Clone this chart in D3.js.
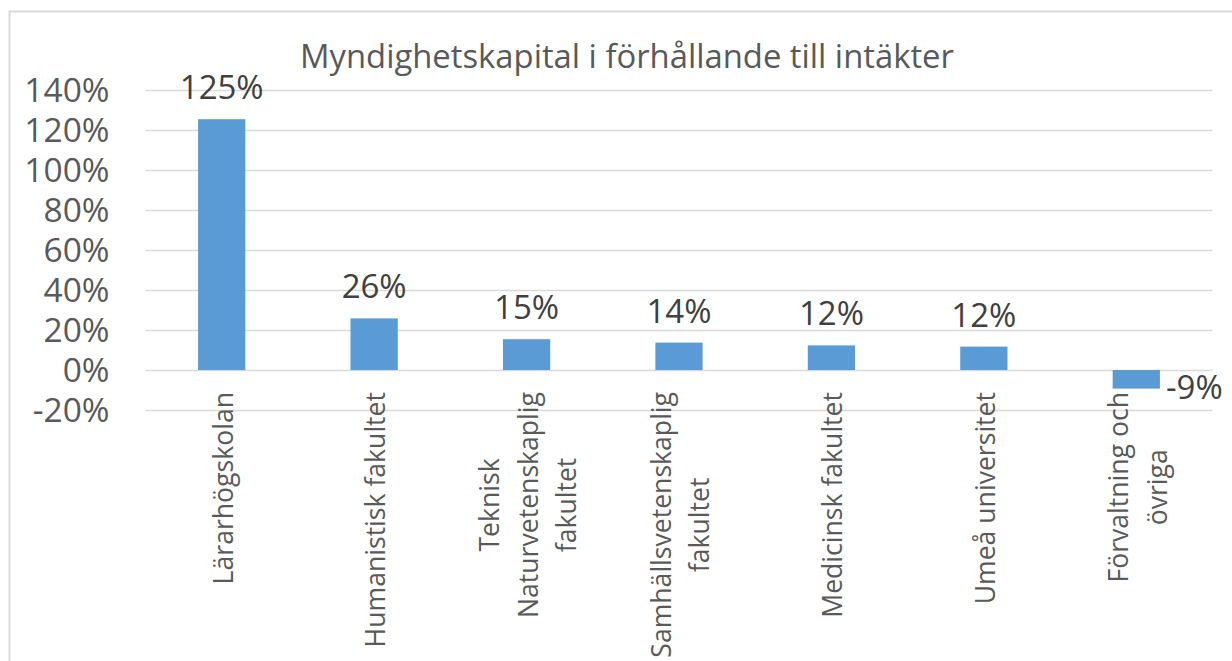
<!DOCTYPE html>
<html>
<head>
<meta charset="utf-8">
<script src="https://cdn.jsdelivr.net/npm/d3@7"></script>
<style>
  body { margin: 0; background: #fff; }
  text { font-family: "Open Sans", sans-serif; }
</style>
</head>
<body>
<svg id="chart" width="1232" height="661"></svg>
<script>
var chartTitle = 'Myndighetskapital i förhållande till intäkter';
var categories = [
  'Lärarhögskolan',
  'Humanistisk fakultet',
  'Teknisk\nNaturvetenskaplig\nfakultet',
  'Samhällsvetenskaplig\nfakultet',
  'Medicinsk fakultet',
  'Umeå universitet',
  'Förvaltning och\növriga'
];
var values = [1.254, 0.258, 0.154, 0.137, 0.123, 0.117, -0.093];
var yTicks = [-0.2, 0, 0.2, 0.4, 0.6, 0.8, 1.0, 1.2, 1.4];

var svg = d3.select('#chart');

// chart frame (cut off at right and bottom)
svg.append('rect')
  .attr('x', 9.5).attr('y', 11.5)
  .attr('width', 1300).attr('height', 700)
  .attr('fill', 'none')
  .attr('stroke', '#d9d9d9')
  .attr('stroke-width', 2);

var left = 145.5, right = 1212.5;

var xScale = d3.scaleBand()
  .domain(categories)
  .range([left, right])
  .paddingInner(0.69)
  .paddingOuter(0.345);

var yScale = d3.scaleLinear()
  .domain([-0.2, 1.4])
  .range([410, 90]);

// plain hyphen for negatives, like the original
var pct = d3.formatLocale({ decimal: '.', thousands: ',', grouping: [3], currency: ['', ''], minus: '-' }).format('.0%');

// gridlines + y labels
var yAxis = d3.axisLeft(yScale)
  .tickValues(yTicks)
  .tickFormat(pct)
  .tickSize(-(right - left))
  .tickPadding(36);

var gy = svg.append('g')
  .attr('transform', `translate(${left}, 0)`)
  .call(yAxis);
gy.select('.domain').remove();
gy.selectAll('line').attr('stroke', '#d9d9d9').attr('stroke-width', 1.5);
gy.selectAll('text')
  .attr('fill', '#595959')
  .style('font-size', '33.5px')
  .attr('dy', '0.35em');

// bars
svg.selectAll('.bar')
  .data(values)
  .enter()
  .append('rect')
  .attr('class', 'bar')
  .attr('x', (d, i) => xScale(categories[i]))
  .attr('width', xScale.bandwidth())
  .attr('y', d => yScale(Math.max(0, d)))
  .attr('height', d => Math.abs(yScale(d) - yScale(0)))
  .attr('fill', '#5b9bd5');

// data labels
svg.selectAll('.lbl')
  .data(values)
  .enter()
  .append('text')
  .attr('class', 'lbl')
  .attr('x', (d, i) => d >= 0
    ? xScale(categories[i]) + xScale.bandwidth() / 2
    : xScale(categories[i]) + xScale.bandwidth() + 6)
  .attr('y', d => d >= 0 ? yScale(d) - 20 : yScale(d) + 10)
  .attr('text-anchor', d => d >= 0 ? 'middle' : 'start')
  .attr('fill', '#404040')
  .style('font-size', '33px')
  .text(d => pct(d));

// category labels, rotated, lines centred on the longest one
var lineH = 38.5;
categories.forEach(function(c, i) {
  var lines = c.split('\n');
  var g = svg.append('g')
    .attr('transform', `translate(${xScale(c) + xScale.bandwidth() / 2}, 392) rotate(-90)`);
  var texts = g.selectAll('text')
    .data(lines)
    .enter()
    .append('text')
    .attr('text-anchor', 'middle')
    .attr('fill', '#595959')
    .style('font-size', '26.6px')
    .attr('y', (d, j) => (j - (lines.length - 1) / 2) * lineH + 11)
    .text(d => d);
  var maxLen = d3.max(texts.nodes(), n => n.getComputedTextLength());
  texts.attr('x', -maxLen / 2);
});

// title
svg.append('text')
  .attr('x', 627)
  .attr('y', 68)
  .attr('text-anchor', 'middle')
  .attr('fill', '#595959')
  .style('font-size', '32.8px')
  .text(chartTitle);
</script>
</body>
</html>
